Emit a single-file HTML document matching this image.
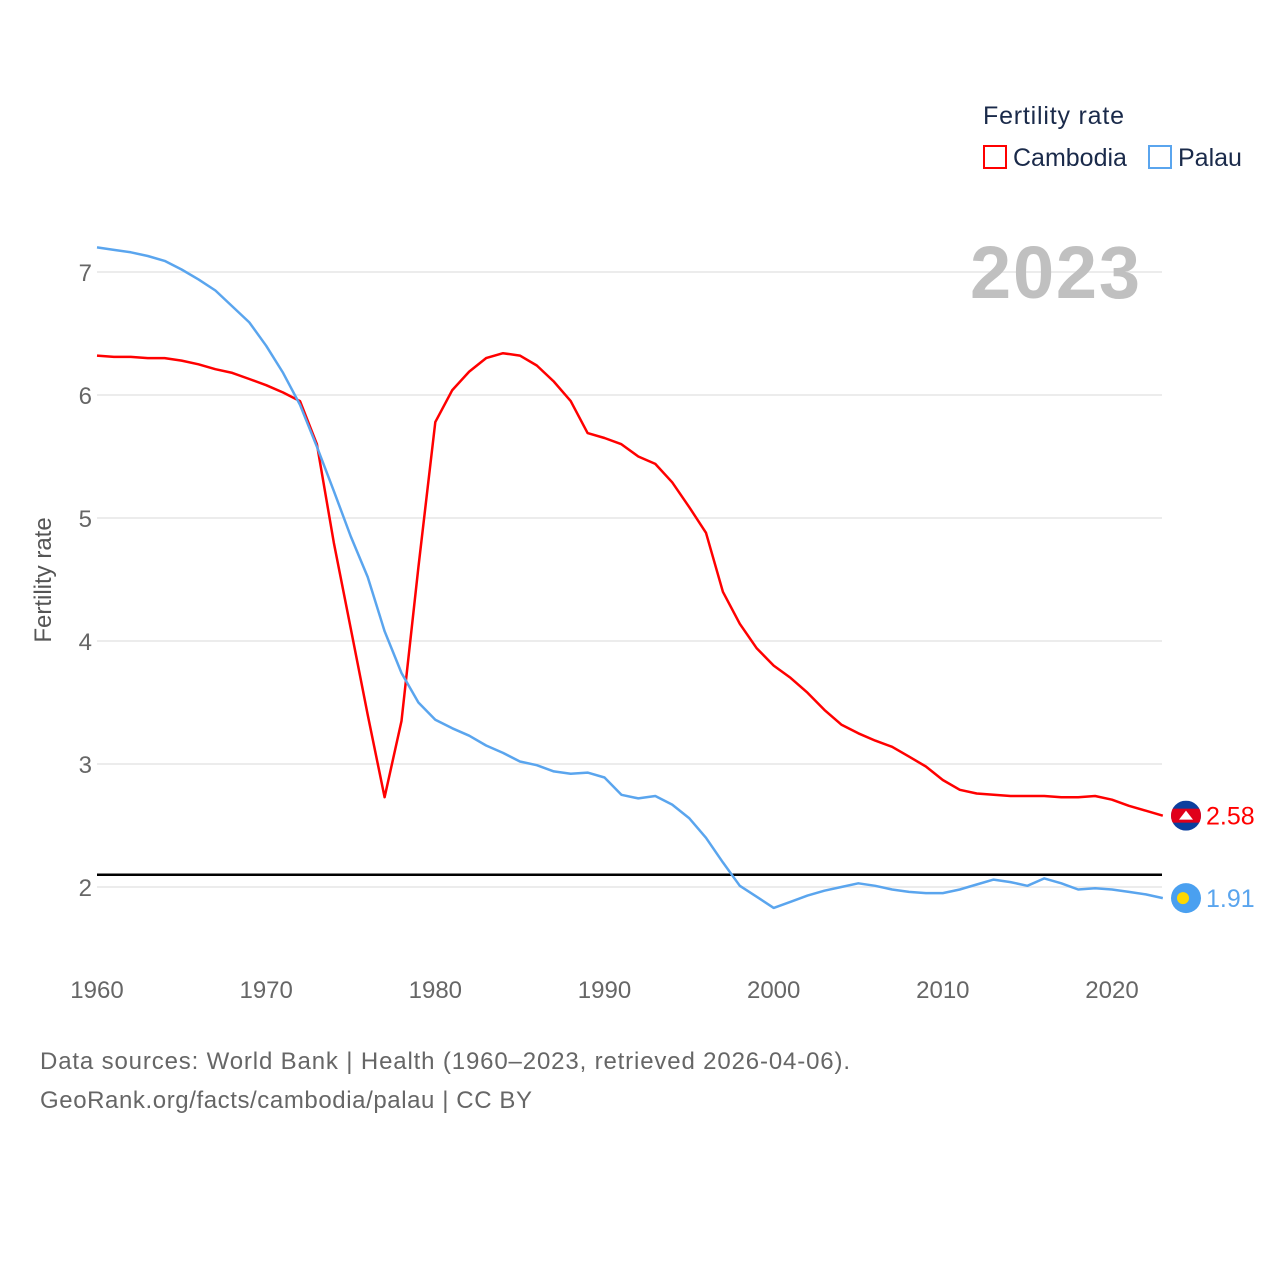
<!DOCTYPE html>
<html><head><meta charset="utf-8"><style>
body{margin:0;background:#fff;font-family:"Liberation Sans",sans-serif;}
svg text{font-family:"Liberation Sans",sans-serif;}
</style></head><body>
<svg id="chart" width="1280" height="1280" viewBox="0 0 1280 1280">
<defs><clipPath id="cclip"><circle cx="1186" cy="0" r="15" id="cclipc"/></clipPath></defs>
<g id="grid"></g>
<g id="yticks"></g>
<g id="xticks"></g>
<text x="1140" y="298" text-anchor="end" font-size="74" font-weight="bold" fill="#c0c0c0" textLength="170">2023</text>
<text transform="translate(51,580) rotate(-90)" text-anchor="middle" font-size="24" fill="#555">Fertility rate</text>
<g id="series"></g>
<g>
<text x="983" y="124" font-size="25" fill="#1a2a4a" textLength="141">Fertility rate</text>
<g><rect x="984" y="146" width="22" height="22" fill="none" stroke="#f00" stroke-width="2"/><text x="1013" y="166" font-size="25" fill="#1a2a4a">Cambodia</text></g>
<g><rect x="1149" y="146" width="22" height="22" fill="none" stroke="#5aa5ee" stroke-width="2"/><text x="1178" y="166" font-size="25" fill="#1a2a4a">Palau</text></g>
</g>
<text x="40" y="1069" font-size="24" fill="#666" textLength="810">Data sources: World Bank | Health (1960–2023, retrieved 2026-04-06).</text>
<text x="40" y="1108" font-size="24" fill="#666" textLength="492">GeoRank.org/facts/cambodia/palau | CC BY</text>
</svg>
<script>
const years=[];for(let y=1960;y<=2023;y++)years.push(y);
const cambodia=[6.32,6.31,6.31,6.30,6.30,6.28,6.25,6.21,6.18,6.13,6.08,6.02,5.95,5.6,4.8,4.1,3.4,2.73,3.35,4.6,5.78,6.04,6.19,6.30,6.34,6.32,6.24,6.11,5.95,5.69,5.65,5.60,5.50,5.44,5.29,5.09,4.88,4.40,4.14,3.94,3.80,3.70,3.58,3.44,3.32,3.25,3.19,3.14,3.06,2.98,2.87,2.79,2.76,2.75,2.74,2.74,2.74,2.73,2.73,2.74,2.71,2.66,2.62,2.58];
const palau=[7.20,7.18,7.16,7.13,7.09,7.02,6.94,6.85,6.72,6.59,6.40,6.18,5.92,5.58,5.22,4.85,4.52,4.08,3.74,3.50,3.36,3.29,3.23,3.15,3.09,3.02,2.99,2.94,2.92,2.93,2.89,2.75,2.72,2.74,2.67,2.56,2.40,2.20,2.01,1.92,1.83,1.88,1.93,1.97,2.00,2.03,2.01,1.98,1.96,1.95,1.95,1.98,2.02,2.06,2.04,2.01,2.07,2.03,1.98,1.99,1.98,1.96,1.94,1.91];
const yTicks=[2,3,4,5,6,7];
const xTicks=[1960,1970,1980,1990,2000,2010,2020];
const replacement=2.1;
const NS="http://www.w3.org/2000/svg";
const X=v=>97+(v-1960)*(1112-97)/60;
const Y=v=>887-(v-2)*123;
function mk(t,a,p){const e=document.createElementNS(NS,t);for(const k in a)e.setAttribute(k,a[k]);p.appendChild(e);return e;}
const grid=document.getElementById('grid'),yt=document.getElementById('yticks'),xt=document.getElementById('xticks'),ser=document.getElementById('series');
yTicks.forEach(v=>{
const l=mk('line',{x1:97,x2:1162,y1:Y(v),y2:Y(v),stroke:'#e6e6e6','stroke-width':1.5},grid);


const t=mk('text',{x:92,y:Y(v)+9,'text-anchor':'end','font-size':24,fill:'#666'},yt);t.textContent=v;


});
xTicks.forEach(v=>{
const t=mk('text',{x:X(v),y:998,'text-anchor':'middle','font-size':24,fill:'#666'},xt);t.textContent=v;


});
const rl=mk('line',{x1:97,x2:1162,y1:Y(replacement),y2:Y(replacement),stroke:'#000','stroke-width':2.5},ser);


function line(data,color,name){
const d=data.map((v,i)=>(i?'L':'M')+X(years[i]).toFixed(1)+','+Y(v).toFixed(1)).join('');
const p=mk('path',{d:d,fill:'none',stroke:color,'stroke-width':2.5,'stroke-linejoin':'round'},ser);


const last=data[data.length-1],cy=Y(last);
const g=mk('g',{},ser);


if(name==='cambodia'){
document.getElementById('cclipc').setAttribute('cy',cy);
const fg=mk('g',{'clip-path':'url(#cclip)'},g);
mk('rect',{x:1170,y:cy-15,width:32,height:30,fill:'#0b3f9e'},fg);
mk('rect',{x:1170,y:cy-7,width:32,height:14,fill:'#e0001a'},fg);
mk('path',{d:`M1179,${cy+4}L1186,${cy-5}L1193,${cy+4}Z`,fill:'#fff'},fg);
}else{
mk('circle',{cx:1186,cy:cy,r:15,fill:'#4aa0f0'},g);
mk('circle',{cx:1183,cy:cy,r:6,fill:'#ffd700'},g);
}
const t=mk('text',{x:1206,y:cy+9,'font-size':25,fill:color},g);t.textContent=last.toFixed(2);
}
line(cambodia,'#f00','cambodia');
line(palau,'#5aa5ee','palau');
</script>
</body></html>
